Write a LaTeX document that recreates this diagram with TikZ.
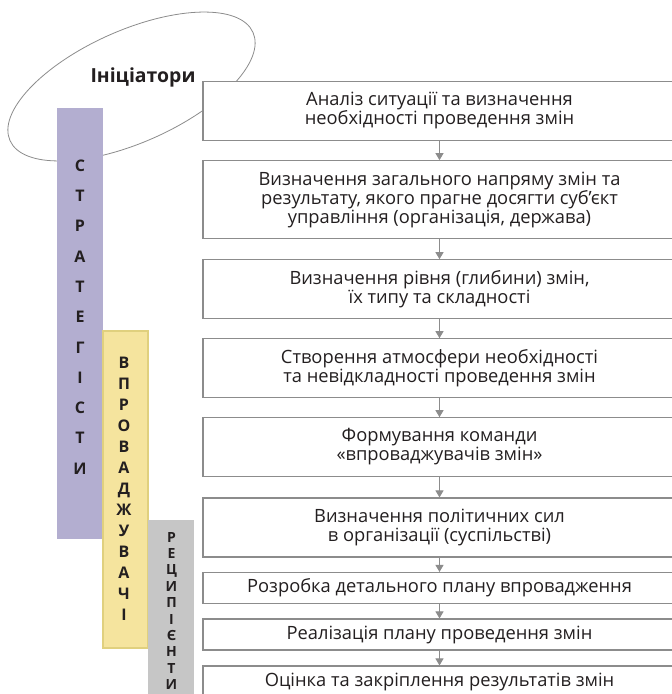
\documentclass[tikz,border=0pt]{standalone}
\usepackage{fontspec}
\setmainfont{Open Sans}
\usetikzlibrary{arrows.meta,shapes.geometric}

\definecolor{boxline}{HTML}{8C8C8C}
\definecolor{inktext}{HTML}{231F20}
\definecolor{strat}{HTML}{B3AED0}
\definecolor{impl}{HTML}{F5E49E}
\definecolor{implline}{HTML}{E0D07E}
\definecolor{recip}{HTML}{C6C6C6}

\tikzset{
  stage/.style={rectangle, draw=boxline, line width=1.1pt, fill=white,
    minimum width=473pt, align=center, text=inktext,
    font=\fontsize{18.3}{19}\selectfont},
  bar/.style={rectangle, inner sep=0pt},
  vletter/.style={inner sep=0pt, text=inktext, text height=11.5pt, text depth=0pt,
    font=\bfseries\fontsize{16}{16}\selectfont},
  flow/.style={-{Triangle[width=8pt,length=7pt]}, draw=boxline, line width=1pt}
}

\begin{document}
\begin{tikzpicture}[x=1pt,y=-1pt]
  \clip (0,0) rectangle (672,694);
  \fill[white] (0,0) rectangle (672,694);

  \path (131.5,86.5) node[ellipse, draw=boxline, line width=0.8pt, minimum width=266pt,
      minimum height=112pt, rotate=24](init){}
    (143,77) node[text=inktext, font=\bfseries\fontsize{19.4}{19.4}\selectfont](initlbl){Ініціатори};

  \path (80,323.5) node[bar, fill=strat, minimum width=46pt, minimum height=431pt](strategists){}
    (125.5,489.5) node[bar, fill=impl, draw=implline, line width=1.6pt,
      minimum width=45pt, minimum height=317pt](implementers){}
    (171,612) node[bar, fill=recip, minimum width=46pt, minimum height=184pt](recipients){};

  \foreach \ch [count=\i] in {С,Т,Р,А,Т,Е,Г,І,С,Т,И}
    \path (80,{165.5+30.3*(\i-1)}) node[vletter](s\i){\ch};
  \foreach \ch [count=\i] in {В,П,Р,О,В,А,Д,Ж,У,В,А,Ч,І}
    \path (124,{363+21*(\i-1)}) node[vletter](v\i){\ch};
  \foreach \ch [count=\i] in {Р,Е,Ц,И,П,І,Є,Н,Т,И}
    \path (171.5,{537+16.4*(\i-1)}) node[vletter, text height=10pt,
      font=\bfseries\fontsize{14}{14}\selectfont](r\i){\ch};

  \path (439.5,110.9) node[stage, minimum height=58.3pt](b1){Аналіз ситуації та визначення\\необхідності проведення змін}
    (439.5,199.6) node[stage, minimum height=77.8pt](b2){Визначення загального напряму змін та\\результату, якого прагне досягти суб’єкт\\управління (організація, держава)}
    (439.5,289) node[stage, minimum height=58.5pt](b3){Визначення рівня (глибини) змін,\\їх типу та складності}
    (439.5,368) node[stage, minimum height=58.5pt](b4){Створення атмосфери необхідності\\та невідкладності проведення змін}
    (439.5,447) node[stage, minimum height=58.5pt](b5){Формування команди\\«впроваджувачів змін»}
    (439.5,527.5) node[stage, minimum height=59pt](b6){Визначення політичних сил\\в організації (суспільстві)}
    (439.5,588) node[stage, minimum height=31pt](b7){Розробка детального плану впровадження}
    (439.5,634.5) node[stage, minimum height=31pt](b8){Реалізація плану проведення змін}
    (439.5,681.5) node[stage, minimum height=31pt](b9){Оцінка та закріплення результатів змін};

  \foreach \a/\b in {b1/b2,b2/b3,b3/b4,b4/b5,b5/b6,b6/b7,b7/b8,b8/b9}
    \draw[flow](\a) -- (\b);
\end{tikzpicture}
\end{document}
